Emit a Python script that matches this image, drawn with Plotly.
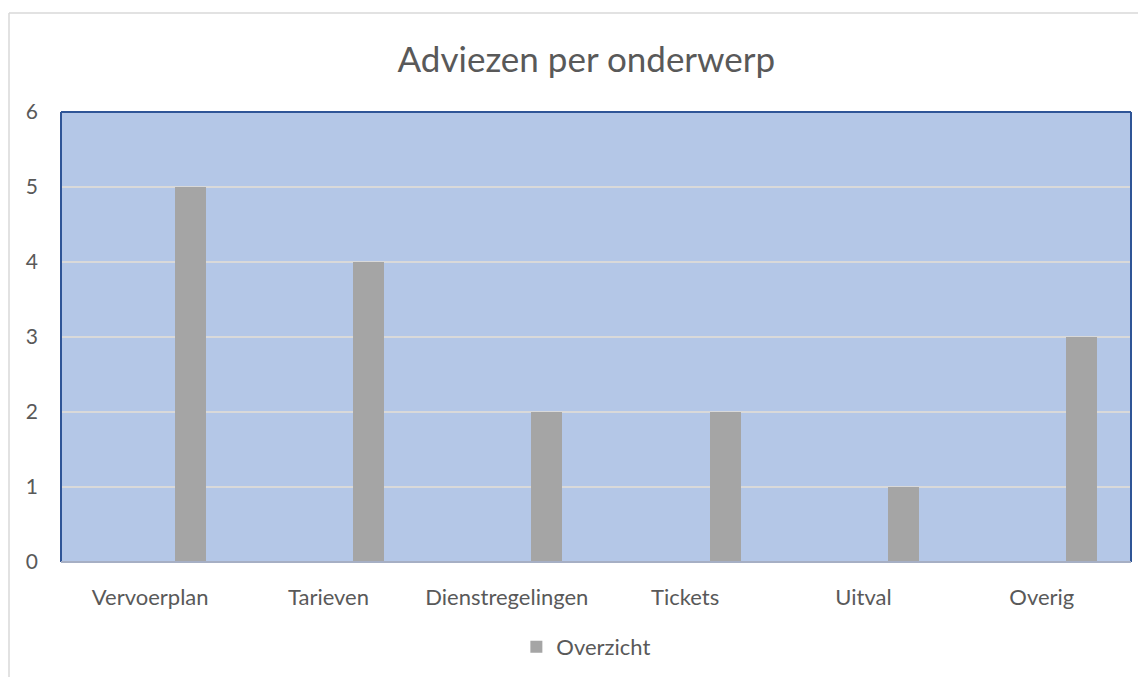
import plotly.graph_objects as go

categories = ["Vervoerplan", "Tarieven", "Dienstregelingen", "Tickets", "Uitval", "Overig"]
values = [5, 4, 2, 2, 1, 3]
series_name = "Overzicht"
title_text = "Adviezen per onderwerp"
y_ticks = [0, 1, 2, 3, 4, 5, 6]

FONT = "Lato, 'Open Sans', sans-serif"
TXT = "#595959"

fig = go.Figure()
fig.add_trace(go.Bar(
    x=categories, y=values, name=series_name,
    marker=dict(color="#A5A5A5", line=dict(width=0)),
    offset=0.137, width=0.174,
    showlegend=True,
))

# page body has an 8px margin, so the figure is sized to fit the window
fig.update_layout(
    width=1138, height=669,
    margin=dict(l=53, r=15, t=104, b=115, autoexpand=False),
    paper_bgcolor="white",
    plot_bgcolor="#B4C7E7",
    font=dict(family=FONT, color=TXT, size=21),
    title=dict(text=title_text, x=0.491, xref="paper", xanchor="center",
               y=1 - 52/669, yref="container",
               yanchor="middle", font=dict(size=35, color=TXT, family=FONT)),
    showlegend=True,
    legend=dict(orientation="h", x=0.491, xanchor="center", y=1 - 639/669, yref="container",
                yanchor="middle", font=dict(size=22, color=TXT), itemwidth=30),
    bargap=0,
)
fig.update_xaxes(
    showgrid=False, showline=False, automargin=False,
    tickfont=dict(size=22, color=TXT), ticks="", ticklabelstandoff=20,
)
fig.update_yaxes(
    range=[0, 6], tickvals=y_ticks, showgrid=True, gridcolor="#D9D9D9", gridwidth=1.5,
    zeroline=False, showline=False, ticks="", automargin=False,
    tickfont=dict(size=21, color=TXT), ticklabelstandoff=22,
)
# plot-area border: dark blue on top/left/right, grey axis line at bottom
BLUE = "#2F5597"
fig.add_shape(type="line", xref="paper", yref="paper", x0=0, x1=1, y0=1, y1=1,
              line=dict(color=BLUE, width=2), layer="above")
fig.add_shape(type="line", xref="paper", yref="paper", x0=0, x1=0, y0=0, y1=1,
              line=dict(color=BLUE, width=2), layer="above")
fig.add_shape(type="line", xref="paper", yref="paper", x0=1, x1=1, y0=0, y1=1,
              line=dict(color=BLUE, width=2), layer="above")
fig.add_shape(type="line", xref="paper", yref="paper", x0=0, x1=1, y0=0, y1=0,
              line=dict(color="#A6AFC4", width=2), layer="above")
# outer chart border (light gray)
fig.add_shape(type="line", xref="paper", yref="paper", x0=-0.0486, x1=1.1, y0=1.22, y1=1.22,
              line=dict(color="#D9D9D9", width=1.5))
fig.add_shape(type="line", xref="paper", yref="paper", x0=-0.0486, x1=-0.0486, y0=1.22, y1=-0.3,
              line=dict(color="#D9D9D9", width=1.5))

fig.write_html("out.html")
